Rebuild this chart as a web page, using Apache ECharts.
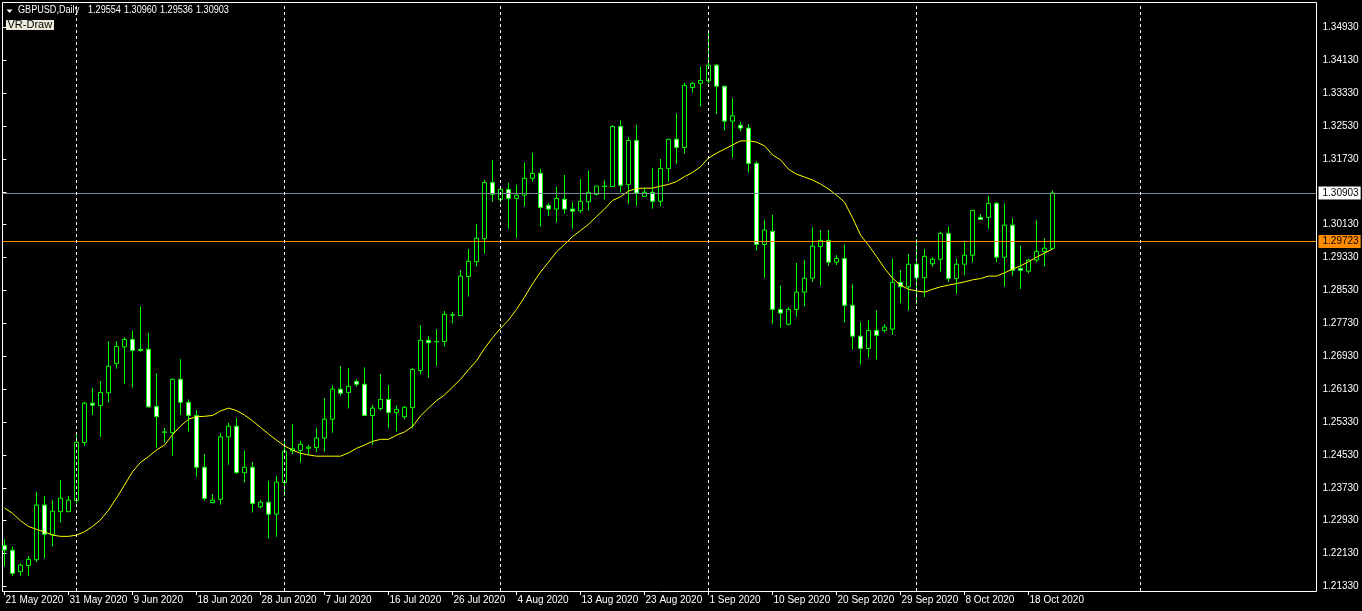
<!DOCTYPE html>
<html>
<head>
<meta charset="utf-8">
<script src="https://cdn.jsdelivr.net/npm/echarts@6/dist/echarts.min.js"></script>
<style>
html,body{margin:0;padding:0;background:#000;}
#c{width:1362px;height:611px;}
</style>
</head>
<body>
<div id="c"></div>
<script>
// ---- categories (daily bars, then future calendar days) ----
const dates = [
'21 May 2020','22 May 2020','24 May 2020','25 May 2020','26 May 2020','27 May 2020','28 May 2020','29 May 2020','31 May 2020',
'1 Jun 2020','2 Jun 2020','3 Jun 2020','4 Jun 2020','5 Jun 2020','7 Jun 2020','8 Jun 2020','9 Jun 2020','10 Jun 2020','11 Jun 2020','12 Jun 2020',
'14 Jun 2020','15 Jun 2020','16 Jun 2020','17 Jun 2020','18 Jun 2020','19 Jun 2020','21 Jun 2020','22 Jun 2020','23 Jun 2020','24 Jun 2020','25 Jun 2020','26 Jun 2020',
'28 Jun 2020','29 Jun 2020','30 Jun 2020',
'1 Jul 2020','2 Jul 2020','3 Jul 2020','5 Jul 2020','6 Jul 2020','7 Jul 2020','8 Jul 2020','9 Jul 2020','10 Jul 2020','12 Jul 2020','13 Jul 2020','14 Jul 2020',
'15 Jul 2020','16 Jul 2020','17 Jul 2020','19 Jul 2020','20 Jul 2020','21 Jul 2020','22 Jul 2020','23 Jul 2020','24 Jul 2020','26 Jul 2020','27 Jul 2020','28 Jul 2020',
'29 Jul 2020','30 Jul 2020','31 Jul 2020',
'2 Aug 2020','3 Aug 2020','4 Aug 2020','5 Aug 2020','6 Aug 2020','7 Aug 2020','9 Aug 2020','10 Aug 2020','11 Aug 2020','12 Aug 2020','13 Aug 2020','14 Aug 2020',
'16 Aug 2020','17 Aug 2020','18 Aug 2020','19 Aug 2020','20 Aug 2020','21 Aug 2020','23 Aug 2020','24 Aug 2020','25 Aug 2020','26 Aug 2020','27 Aug 2020','28 Aug 2020',
'30 Aug 2020','31 Aug 2020',
'1 Sep 2020','2 Sep 2020','3 Sep 2020','4 Sep 2020','6 Sep 2020','7 Sep 2020','8 Sep 2020','9 Sep 2020','10 Sep 2020','11 Sep 2020','13 Sep 2020','14 Sep 2020',
'15 Sep 2020','16 Sep 2020','17 Sep 2020','18 Sep 2020','20 Sep 2020','21 Sep 2020','22 Sep 2020','23 Sep 2020','24 Sep 2020','25 Sep 2020','27 Sep 2020','28 Sep 2020',
'29 Sep 2020','30 Sep 2020',
'1 Oct 2020','2 Oct 2020','4 Oct 2020','5 Oct 2020','6 Oct 2020','7 Oct 2020','8 Oct 2020','9 Oct 2020','11 Oct 2020','12 Oct 2020','13 Oct 2020','14 Oct 2020',
'15 Oct 2020','16 Oct 2020','18 Oct 2020','19 Oct 2020','20 Oct 2020','21 Oct 2020',
'22 Oct 2020','23 Oct 2020','24 Oct 2020','25 Oct 2020','26 Oct 2020','27 Oct 2020','28 Oct 2020','29 Oct 2020','30 Oct 2020','31 Oct 2020',
'1 Nov 2020','2 Nov 2020','3 Nov 2020','4 Nov 2020','5 Nov 2020','6 Nov 2020','7 Nov 2020','8 Nov 2020','9 Nov 2020','10 Nov 2020','11 Nov 2020','12 Nov 2020',
'13 Nov 2020','14 Nov 2020','15 Nov 2020','16 Nov 2020','17 Nov 2020','18 Nov 2020','19 Nov 2020','20 Nov 2020','21 Nov 2020','22 Nov 2020','23 Nov 2020'
];

// ---- OHLC values ----
const opens = [
1.2233,1.2221,1.2169,1.2184,1.2198,1.2331,1.2259,1.2315,1.2315,1.2342,
1.2483,1.2579,1.2573,1.2604,1.2675,1.2716,1.2734,1.2710,1.2710,1.2571,
1.2508,1.2507,1.2637,1.2581,1.2549,1.2423,1.2337,1.2345,1.2497,1.2523,
1.2410,1.2423,1.2327,1.2338,1.2309,1.2386,1.2463,1.2464,1.2469,1.2471,
1.2494,1.2540,1.2613,1.2605,1.2632,1.2625,1.2549,1.2566,1.2588,1.2556,
1.2546,1.2568,1.2658,1.2732,1.2728,1.2729,1.2793,1.2792,1.2887,1.2923,
1.2979,1.3116,1.3074,1.3099,1.3077,1.3085,1.3126,1.3138,1.3060,1.3051,
1.3075,1.3051,1.3047,1.3069,1.3087,1.3107,1.3106,1.3252,1.3111,1.3218,
1.3082,1.3092,1.3070,1.3150,1.3221,1.3201,1.3347,1.3357,1.3363,1.3401,
1.3350,1.3265,1.3255,1.3248,1.3162,1.2965,1.2997,1.2807,1.2771,1.2807,
1.2849,1.2883,1.2960,1.2975,1.2922,1.2931,1.2817,1.2742,1.2712,1.2756,
1.2756,1.2759,1.2873,1.2862,1.2917,1.2884,1.2918,1.2929,1.2992,1.2882,
1.2917,1.2939,1.3031,1.3031,1.3065,1.2934,1.3012,1.2907,1.2900,1.2927,
1.2948,1.29554
];
const highs = [
1.2248,1.2230,1.2189,1.2207,1.2363,1.2353,1.2343,1.2392,1.2353,1.2506,
1.2582,1.2616,1.2633,1.2730,1.2730,1.2739,1.2755,1.2814,1.2750,1.2652,
1.2519,1.2639,1.2686,1.2588,1.2562,1.2455,1.2358,1.2506,1.2531,1.2543,
1.2463,1.2436,1.2343,1.2390,1.2402,1.2489,1.2528,1.2487,1.2477,1.2519,
1.2591,1.2622,1.2669,1.2665,1.2637,1.2666,1.2575,1.2650,1.2623,1.2574,
1.2572,1.2664,1.2769,1.2742,1.2759,1.2803,1.2801,1.2903,1.2954,1.3015,
1.3122,1.3171,1.3107,1.3115,1.3110,1.3164,1.3188,1.3149,1.3065,1.3105,
1.3134,1.3068,1.3124,1.3144,1.3107,1.3121,1.3255,1.3267,1.3226,1.3256,
1.3103,1.3151,1.3173,1.3221,1.3284,1.3358,1.3360,1.3397,1.3484,1.3404,
1.3350,1.3321,1.3263,1.3258,1.3167,1.3025,1.3037,1.2866,1.2812,1.2920,
1.2927,1.3007,1.3000,1.3000,1.2939,1.2965,1.2868,1.2776,1.2781,1.2805,
1.2771,1.2930,1.2903,1.2942,1.2978,1.2954,1.2934,1.2996,1.3008,1.2930,
1.2970,1.3048,1.3039,1.3083,1.3068,1.3065,1.3029,1.2963,1.2930,1.3024,
1.2980,1.30960
];
const lows = [
1.2181,1.2159,1.2159,1.2159,1.2193,1.2201,1.2230,1.2288,1.2314,1.2335,
1.2475,1.2550,1.2497,1.2580,1.2663,1.2626,1.2617,1.2704,1.2568,1.2470,
1.2483,1.2451,1.2550,1.2510,1.2400,1.2342,1.2335,1.2332,1.2429,1.2407,
1.2386,1.2313,1.2323,1.2249,1.2254,1.2353,1.2455,1.2434,1.2453,1.2460,
1.2461,1.2507,1.2597,1.2566,1.2619,1.2549,1.2478,1.2561,1.2518,1.2510,
1.2540,1.2518,1.2649,1.2641,1.2669,1.2716,1.2773,1.2792,1.2838,1.2911,
1.2943,1.3069,1.3067,1.3003,1.2981,1.3057,1.3118,1.3008,1.3034,1.3018,
1.3040,1.3003,1.3042,1.3047,1.3084,1.3074,1.3106,1.3092,1.3064,1.3059,
1.3082,1.3052,1.3057,1.3118,1.3161,1.3186,1.3334,1.3300,1.3357,1.3282,
1.3242,1.3176,1.3240,1.3140,1.2950,1.2884,1.2772,1.2763,1.2768,1.2789,
1.2814,1.2874,1.2865,1.2913,1.2915,1.2775,1.2710,1.2673,1.2690,1.2685,
1.2751,1.2745,1.2822,1.2804,1.2819,1.2837,1.2911,1.2899,1.2874,1.2845,
1.2890,1.2921,1.3026,1.3003,1.2921,1.2862,1.2889,1.2857,1.2895,1.2922,
1.2911,1.29536
];
const closes = [
1.2222,1.2165,1.2185,1.2199,1.2331,1.2260,1.2316,1.2348,1.2343,1.2484,
1.2579,1.2574,1.2605,1.2669,1.2717,1.2734,1.2707,1.2707,1.2570,1.2546,
1.2509,1.2637,1.2581,1.2549,1.2423,1.2347,1.2343,1.2497,1.2523,1.2410,
1.2423,1.2335,1.2338,1.2309,1.2387,1.2462,1.2468,1.2479,1.2472,1.2494,
1.2540,1.2613,1.2603,1.2620,1.2625,1.2549,1.2567,1.2588,1.2556,1.2564,
1.2569,1.2661,1.2732,1.2726,1.2729,1.2795,1.2794,1.2888,1.2924,1.2980,
1.3116,1.3087,1.3099,1.3077,1.3085,1.3126,1.3138,1.3055,1.3051,1.3077,
1.3051,1.3046,1.3070,1.3092,1.3107,1.3106,1.3252,1.3109,1.3218,1.3090,
1.3092,1.3070,1.3150,1.3221,1.3201,1.3352,1.3357,1.3364,1.3401,1.3350,
1.3265,1.3278,1.3248,1.3162,1.2965,1.3000,1.2807,1.2798,1.2807,1.2849,
1.2883,1.2961,1.2975,1.2922,1.2931,1.2817,1.2742,1.2712,1.2756,1.2744,
1.2764,1.2873,1.2862,1.2917,1.2884,1.2936,1.2929,1.2992,1.2882,1.2917,
1.2939,1.3048,1.3026,1.3065,1.2934,1.3012,1.2902,1.2902,1.2927,1.2948,
1.2956,1.30903
];
// ---- moving average (yellow) ----
const maValues = [
1.2324,1.2311,1.2293,1.2279,1.2272,1.2266,1.2258,1.2255,1.2255,1.2258,
1.2266,1.2279,1.2295,1.2319,1.2348,1.2380,1.2412,1.2435,1.2449,1.2465,
1.2477,1.2502,1.2523,1.2540,1.2546,1.2547,1.2549,1.2560,1.2567,1.2561,
1.2550,1.2536,1.2520,1.2504,1.2489,1.2475,1.2465,1.2457,1.2453,1.2450,
1.2450,1.2450,1.2450,1.2458,1.2469,1.2477,1.2486,1.2491,1.2491,1.2501,
1.2509,1.2522,1.2548,1.2567,1.2585,1.2599,1.2618,1.2637,1.2660,1.2682,
1.2712,1.2738,1.2761,1.2781,1.2807,1.2837,1.2869,1.2898,1.2922,1.2947,
1.2965,1.2984,1.2999,1.3014,1.3033,1.3051,1.3072,1.3081,1.3095,1.3101,
1.3102,1.3102,1.3107,1.3111,1.3118,1.3130,1.3140,1.3154,1.3175,1.3187,
1.3197,1.3207,1.3217,1.3217,1.3214,1.3205,1.3183,1.3171,1.3148,1.3136,
1.3129,1.3122,1.3112,1.3100,1.3085,1.3068,1.3030,1.2988,1.2963,1.2936,
1.2907,1.2883,1.2866,1.2856,1.2852,1.2849,1.2856,1.2862,1.2866,1.2870,
1.2874,1.2879,1.2882,1.2888,1.2888,1.2896,1.2905,1.2913,1.2923,1.2934,
1.2944,1.2954
];
// ---- other values ----
const separatorDates = ['1 Jun 2020','1 Jul 2020','2 Aug 2020','1 Sep 2020','1 Oct 2020','1 Nov 2020'];
const priceAxisMin = 1.2133;
const priceAxisMax = 1.3493;
const priceAxisStep = 0.008;
const bidPrice = 1.30903;
const hLinePrice = 1.29723;
const headerSymbol = 'GBPUSD,Daily';
const headerPrices = ['1.29554','1.30960','1.29536','1.30903'];
const indicatorName = 'VR-Draw';
const labelEvery = 8;

// ---- layout (pixels) ----
const BAR = 8;
const FRAME_L = 2.5, FRAME_T = 2.5, FRAME_R = 1316.5, FRAME_B = 591.5;
const PXU = 4111;              // pixels per price unit
const Y_AXMIN = 586.5;         // pixel row of priceAxisMin
const dataTop = 2, dataBottom = 591;
const yMax0 = priceAxisMin + (Y_AXMIN - dataTop) / PXU;
const yMin0 = priceAxisMin - (dataBottom - Y_AXMIN) / PXU;
const lblTop = Y_AXMIN - (priceAxisMax - priceAxisMin) * PXU;

const nBars = opens.length;
const candleData = opens.map((o, i) => [o, closes[i], lows[i], highs[i]]);
const FONT = '"Liberation Sans", Arial, sans-serif';
const showLbl = (idx) => idx % labelEvery === 0 && idx < nBars;

const chart = echarts.init(document.getElementById('c'), null, {renderer: 'canvas'});
const hdrText = (x, txt) => ({type: 'text', x: x, y: 10.7, scaleX: 0.91, scaleY: 1,
  style: {text: txt, fill: '#fff', font: '10px ' + FONT, verticalAlign: 'middle'}, z: 10});
const option = {
  backgroundColor: '#000',
  animation: false,
  grid: [
    {left: 0.5, top: dataTop, width: dates.length * BAR, height: dataBottom - dataTop, containLabel: false},
    {left: FRAME_L, right: 1362 - FRAME_R, top: lblTop, height: (priceAxisMax - priceAxisMin) * PXU},
    {left: FRAME_L, top: FRAME_T, width: FRAME_R - FRAME_L, height: FRAME_B - FRAME_T, show: true,
     borderColor: '#ffffff', borderWidth: 1, backgroundColor: 'transparent'}
  ],
  xAxis: [
    {gridIndex: 0, type: 'category', data: dates, boundaryGap: true,
     axisLine: {show: false},
     axisTick: {show: true, alignWithLabel: true, interval: showLbl, length: 4, inside: false, lineStyle: {color: '#fff', width: 1}},
     axisLabel: {show: true, interval: showLbl, color: '#fff', fontSize: 10, fontFamily: FONT, align: 'left', margin: 4, padding: [0, 0, 0, 1]},
     splitLine: {show: false}},
    {gridIndex: 1, type: 'value', min: 0, max: 1, show: false},
    {gridIndex: 2, type: 'value', min: 0, max: 1, show: false}
  ],
  yAxis: [
    {gridIndex: 0, type: 'value', min: yMin0, max: yMax0, show: false, splitLine: {show: false}},
    {gridIndex: 1, type: 'value', position: 'right', min: priceAxisMin, max: priceAxisMax, interval: priceAxisStep,
     axisLine: {show: false},
     axisTick: {show: true, length: 4, inside: false, lineStyle: {color: '#fff', width: 1}},
     axisLabel: {show: true, color: '#fff', fontSize: 10, fontFamily: FONT, margin: 6, formatter: v => v.toFixed(5)},
     splitLine: {show: false}},
    {gridIndex: 2, type: 'value', min: 0, max: 1, show: false, splitLine: {show: false}}
  ],
  series: [
    {
      type: 'line', xAxisIndex: 1, yAxisIndex: 1, data: [], silent: true, clip: false,
      markLine: {
        silent: true, symbol: ['none', 'none'], animation: false, precision: 5,
        data: [
          {yAxis: bidPrice, lineStyle: {color: '#778899', width: 1, type: 'solid'},
           label: {show: true, position: 'end', distance: 2, formatter: bidPrice.toFixed(5), color: '#000', backgroundColor: '#ffffff',
                   padding: [2, 2, 1, 4], fontSize: 10, fontFamily: FONT}},
          {yAxis: hLinePrice, lineStyle: {color: '#ff8c00', width: 1, type: 'solid'},
           label: {show: true, position: 'end', distance: 2, formatter: hLinePrice.toFixed(5), color: '#000', backgroundColor: '#ff8c00',
                   padding: [2, 2, 1, 4], fontSize: 10, fontFamily: FONT}}
        ]
      }
    },
    {
      type: 'candlestick', xAxisIndex: 0, yAxisIndex: 0, data: candleData, barWidth: 4, clip: false, silent: true,
      itemStyle: {color: '#000000', color0: '#ffffff', borderColor: '#00ff00', borderColor0: '#00ff00', borderColorDoji: '#00ff00', borderWidth: 1},
      markLine: {
        silent: true, symbol: ['none', 'none'], animation: false, label: {show: false},
        lineStyle: {color: '#ffffff', width: 1, type: [3, 3]},
        data: separatorDates.map(d => ({xAxis: d}))
      },
      z: 2
    },
    {
      type: 'line', xAxisIndex: 0, yAxisIndex: 0, data: maValues, symbol: 'none', silent: true,
      lineStyle: {color: '#ffff00', width: 1}, z: 3
    }
  ],
  graphic: [
    {type: 'polygon', shape: {points: [[6.5, 9.5], [12.5, 9.5], [9.5, 13]]}, style: {fill: '#ffffff'}, z: 10},
    hdrText(18, headerSymbol),
    hdrText(88, headerPrices[0]),
    hdrText(124, headerPrices[1]),
    hdrText(160, headerPrices[2]),
    hdrText(196, headerPrices[3]),
    {type: 'rect', shape: {x: 6, y: 20, width: 48, height: 10}, style: {fill: '#ece9d8'}, z: 10},
    {type: 'text', x: 7.5, y: 25, style: {text: indicatorName, fill: '#000', font: '11px ' + FONT, verticalAlign: 'middle'}, z: 11}
  ]
};
chart.setOption(option);
</script>
</body>
</html>
